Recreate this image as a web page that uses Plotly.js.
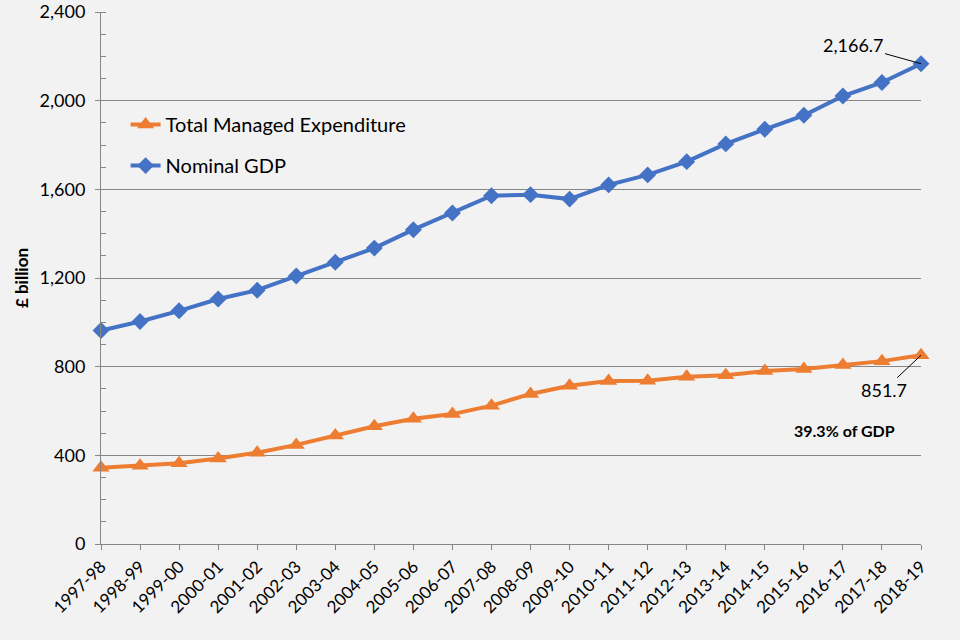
<!DOCTYPE html>
<html>
<head>
<meta charset="utf-8">
<script src="https://cdn.plot.ly/plotly-3.0.1.min.js"></script>
<style>html,body{margin:0;padding:0;background:#f2f2f2;}#chart{width:960px;height:640px;}</style>
</head>
<body>
<div id="chart"></div>
<script>
const years = ["1997-98","1998-99","1999-00","2000-01","2001-02","2002-03","2003-04","2004-05","2005-06","2006-07","2007-08","2008-09","2009-10","2010-11","2011-12","2012-13","2013-14","2014-15","2015-16","2016-17","2017-18","2018-19"];
const tme = [344, 353, 364, 386, 412, 447, 489, 531, 565, 586, 624, 677, 714, 735, 737, 755, 761, 780, 789, 807, 825, 851.7];
const gdp = [963, 1004, 1052, 1105, 1145, 1209, 1271, 1335, 1418, 1493, 1571, 1576, 1556, 1620, 1665, 1725, 1805, 1871, 1934, 2021, 2082, 2166.7];
const yTicks = [0, 400, 800, 1200, 1600, 2000, 2400];

const font = "Lato, 'Open Sans', sans-serif";

const traces = [
  {
    x: years, y: tme, name: "Total Managed Expenditure", type: "scatter", mode: "lines+markers",
    line: {color: "#ED7D31", width: 4}, marker: {symbol: "triangle-up", size: 15, color: "#ED7D31"},
    cliponaxis: false, legendgroup: "a"
  },
  {
    x: years, y: gdp, name: "Nominal GDP", type: "scatter", mode: "lines+markers",
    line: {color: "#4472C4", width: 4}, marker: {symbol: "diamond", size: 13, color: "#4472C4"},
    cliponaxis: false, legendgroup: "b"
  }
];

const layout = {
  width: 960, height: 640,
  paper_bgcolor: "#f2f2f2", plot_bgcolor: "#f2f2f2",
  margin: {l: 101, r: 39, t: 12, b: 96},
  font: {family: font, color: "#000", size: 16},
  showlegend: true,
  legend: {
    x: 0.03, y: 0.825, xanchor: "left", yanchor: "top",
    bgcolor: "rgba(0,0,0,0)", font: {size: 20, family: font, color: "#000"},
    traceorder: "grouped", tracegroupgap: 12
  },
  xaxis: {
    type: "category", range: [0, 21],
    showgrid: false, showline: true, linecolor: "#868686", linewidth: 1,
    ticks: "outside", ticklen: 5, tickcolor: "#868686",
    tickangle: -45, tickfont: {size: 17, family: font, color: "#000"},
    zeroline: false
  },
  yaxis: {
    range: [0, 2400], tickvals: yTicks, tickformat: ",",
    showgrid: true, gridcolor: "#868686", gridwidth: 1,
    showline: true, linecolor: "#868686", linewidth: 1,
    ticks: "outside", ticklen: 5, tickcolor: "#868686",
    ticklabelstandoff: 6,
    tickfont: {size: 18, family: font, color: "#000"},
    minor: {dtick: 100, ticks: "inside", ticklen: 5, tickcolor: "#868686", showgrid: false},
    zeroline: false,
    title: {text: "<b>£ billion</b>", font: {size: 17, family: font, color: "#000"}, standoff: 6}
  },
  annotations: [
    {
      x: 21, y: 2166.7, xref: "x", yref: "y", text: "2,166.7",
      showarrow: true, arrowhead: 0, arrowwidth: 1, arrowcolor: "#000",
      ax: -68, ay: -19, font: {size: 18, family: font, color: "#000"}
    },
    {
      x: 21, y: 851.7, xref: "x", yref: "y", text: "851.7",
      showarrow: true, arrowhead: 0, arrowwidth: 1, arrowcolor: "#000",
      ax: -37, ay: 35, font: {size: 18, family: font, color: "#000"}
    },
    {
      x: 19.05, y: 514, xref: "x", yref: "y", text: "<b>39.3% of GDP</b>",
      showarrow: false, font: {size: 16, family: font, color: "#000"}
    }
  ]
};

Plotly.newPlot("chart", traces, layout, {displayModeBar: false, staticPlot: true});
</script>
</body>
</html>
